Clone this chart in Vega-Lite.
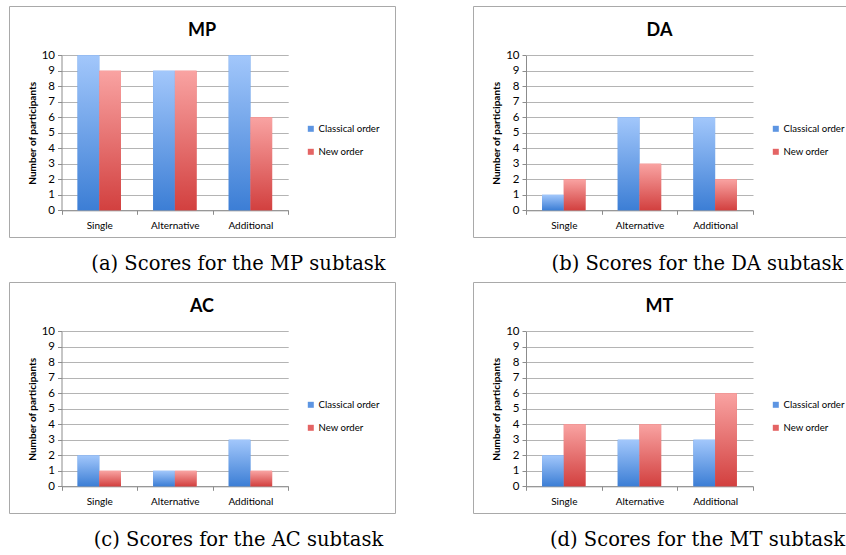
{
  "$schema": "https://vega.github.io/schema/vega-lite/v6.json",
  "padding": {"left": 8, "top": 5, "right": 0, "bottom": 0},
  "background": "white",
  "data": {"values": [
    {"panel": "MP", "task": "Single", "order": "Classical order", "count": 10},
    {"panel": "MP", "task": "Single", "order": "New order", "count": 9},
    {"panel": "MP", "task": "Alternative", "order": "Classical order", "count": 9},
    {"panel": "MP", "task": "Alternative", "order": "New order", "count": 9},
    {"panel": "MP", "task": "Additional", "order": "Classical order", "count": 10},
    {"panel": "MP", "task": "Additional", "order": "New order", "count": 6},
    {"panel": "DA", "task": "Single", "order": "Classical order", "count": 1},
    {"panel": "DA", "task": "Single", "order": "New order", "count": 2},
    {"panel": "DA", "task": "Alternative", "order": "Classical order", "count": 6},
    {"panel": "DA", "task": "Alternative", "order": "New order", "count": 3},
    {"panel": "DA", "task": "Additional", "order": "Classical order", "count": 6},
    {"panel": "DA", "task": "Additional", "order": "New order", "count": 2},
    {"panel": "AC", "task": "Single", "order": "Classical order", "count": 2},
    {"panel": "AC", "task": "Single", "order": "New order", "count": 1},
    {"panel": "AC", "task": "Alternative", "order": "Classical order", "count": 1},
    {"panel": "AC", "task": "Alternative", "order": "New order", "count": 1},
    {"panel": "AC", "task": "Additional", "order": "Classical order", "count": 3},
    {"panel": "AC", "task": "Additional", "order": "New order", "count": 1},
    {"panel": "MT", "task": "Single", "order": "Classical order", "count": 2},
    {"panel": "MT", "task": "Single", "order": "New order", "count": 4},
    {"panel": "MT", "task": "Alternative", "order": "Classical order", "count": 3},
    {"panel": "MT", "task": "Alternative", "order": "New order", "count": 4},
    {"panel": "MT", "task": "Additional", "order": "Classical order", "count": 3},
    {"panel": "MT", "task": "Additional", "order": "New order", "count": 6}
  ]},
  "columns": 2,
  "bounds": "flush",
  "spacing": {"row": 45, "column": 78},
  "concat": [
    {
      "width": 386, "height": 231,
      "title": "MP",
      "transform": [{"filter": "datum.panel === 'MP'"}],
      "encoding": {
        "x": {"field": "task", "type": "nominal", "sort": ["Single", "Alternative", "Additional"],
              "scale": {"range": [52.5, 279.2], "paddingInner": 0, "paddingOuter": 0},
              "axis": {"title": "(a) Scores for the MP subtask", "offset": -26.7, "titleX": 229}},
        "xOffset": {"field": "order", "type": "nominal", "sort": ["Classical order", "New order"], "scale": {"paddingOuter": 0.74, "paddingInner": 0}},
        "y": {"field": "count", "type": "quantitative", "scale": {"domain": [0, 10], "range": [204.3, 49.3], "nice": false},
              "axis": {"title": "Number of participants", "offset": -52.5, "values": [0, 1, 2, 3, 4, 5, 6, 7, 8, 9, 10]}}
      },
      "layer": [
        {"mark": {"type": "bar"},
         "encoding": {"color": {"field": "order", "type": "nominal", "sort": ["Classical order", "New order"], "scale": {"range": ["#5d95e2", "#e46464"]},
                      "legend": {"title": null, "orient": "none", "legendX": 297, "legendY": 118}}}},
        {"transform": [{"filter": "datum.order === 'Classical order'"}],
         "mark": {"type": "bar", "color": {"gradient": "linear", "x1": 0, "y1": 0, "x2": 0, "y2": 1, "stops": [{"offset": 0, "color": "#a2c7fb"}, {"offset": 1, "color": "#3c7ed5"}]}}},
        {"transform": [{"filter": "datum.order === 'New order'"}],
         "mark": {"type": "bar", "color": {"gradient": "linear", "x1": 0, "y1": 0, "x2": 0, "y2": 1, "stops": [{"offset": 0, "color": "#f9a3a2"}, {"offset": 1, "color": "#d2403f"}]}}}
      ]
    },
    {
      "width": 373, "height": 231,
      "title": "DA",
      "transform": [{"filter": "datum.panel === 'DA'"}],
      "encoding": {
        "x": {"field": "task", "type": "nominal", "sort": ["Single", "Alternative", "Additional"],
              "scale": {"range": [53, 280], "paddingInner": 0, "paddingOuter": 0},
              "axis": {"title": "(b) Scores for the DA subtask", "offset": -26.7, "titleX": 224}},
        "xOffset": {"field": "order", "type": "nominal", "sort": ["Classical order", "New order"], "scale": {"paddingOuter": 0.74, "paddingInner": 0}},
        "y": {"field": "count", "type": "quantitative", "scale": {"domain": [0, 10], "range": [204.3, 49.3], "nice": false},
              "axis": {"title": "Number of participants", "offset": -53, "values": [0, 1, 2, 3, 4, 5, 6, 7, 8, 9, 10]}}
      },
      "layer": [
        {"mark": {"type": "bar"},
         "encoding": {"color": {"field": "order", "type": "nominal", "sort": ["Classical order", "New order"], "scale": {"range": ["#5d95e2", "#e46464"]},
                      "legend": {"title": null, "orient": "none", "legendX": 298, "legendY": 118}}}},
        {"transform": [{"filter": "datum.order === 'Classical order'"}],
         "mark": {"type": "bar", "color": {"gradient": "linear", "x1": 0, "y1": 0, "x2": 0, "y2": 1, "stops": [{"offset": 0, "color": "#a2c7fb"}, {"offset": 1, "color": "#3c7ed5"}]}}},
        {"transform": [{"filter": "datum.order === 'New order'"}],
         "mark": {"type": "bar", "color": {"gradient": "linear", "x1": 0, "y1": 0, "x2": 0, "y2": 1, "stops": [{"offset": 0, "color": "#f9a3a2"}, {"offset": 1, "color": "#d2403f"}]}}}
      ]
    },
    {
      "width": 386, "height": 231,
      "title": "AC",
      "transform": [{"filter": "datum.panel === 'AC'"}],
      "encoding": {
        "x": {"field": "task", "type": "nominal", "sort": ["Single", "Alternative", "Additional"],
              "scale": {"range": [52.5, 279.2], "paddingInner": 0, "paddingOuter": 0},
              "axis": {"title": "(c) Scores for the AC subtask", "offset": -26.7, "titleX": 229}},
        "xOffset": {"field": "order", "type": "nominal", "sort": ["Classical order", "New order"], "scale": {"paddingOuter": 0.74, "paddingInner": 0}},
        "y": {"field": "count", "type": "quantitative", "scale": {"domain": [0, 10], "range": [204.3, 49.3], "nice": false},
              "axis": {"title": "Number of participants", "offset": -52.5, "values": [0, 1, 2, 3, 4, 5, 6, 7, 8, 9, 10]}}
      },
      "layer": [
        {"mark": {"type": "bar"},
         "encoding": {"color": {"field": "order", "type": "nominal", "sort": ["Classical order", "New order"], "scale": {"range": ["#5d95e2", "#e46464"]},
                      "legend": {"title": null, "orient": "none", "legendX": 297, "legendY": 118}}}},
        {"transform": [{"filter": "datum.order === 'Classical order'"}],
         "mark": {"type": "bar", "color": {"gradient": "linear", "x1": 0, "y1": 0, "x2": 0, "y2": 1, "stops": [{"offset": 0, "color": "#a2c7fb"}, {"offset": 1, "color": "#3c7ed5"}]}}},
        {"transform": [{"filter": "datum.order === 'New order'"}],
         "mark": {"type": "bar", "color": {"gradient": "linear", "x1": 0, "y1": 0, "x2": 0, "y2": 1, "stops": [{"offset": 0, "color": "#f9a3a2"}, {"offset": 1, "color": "#d2403f"}]}}}
      ]
    },
    {
      "width": 373, "height": 231,
      "title": "MT",
      "transform": [{"filter": "datum.panel === 'MT'"}],
      "encoding": {
        "x": {"field": "task", "type": "nominal", "sort": ["Single", "Alternative", "Additional"],
              "scale": {"range": [53, 280], "paddingInner": 0, "paddingOuter": 0},
              "axis": {"title": "(d) Scores for the MT subtask", "offset": -26.7, "titleX": 224}},
        "xOffset": {"field": "order", "type": "nominal", "sort": ["Classical order", "New order"], "scale": {"paddingOuter": 0.74, "paddingInner": 0}},
        "y": {"field": "count", "type": "quantitative", "scale": {"domain": [0, 10], "range": [204.3, 49.3], "nice": false},
              "axis": {"title": "Number of participants", "offset": -53, "values": [0, 1, 2, 3, 4, 5, 6, 7, 8, 9, 10]}}
      },
      "layer": [
        {"mark": {"type": "bar"},
         "encoding": {"color": {"field": "order", "type": "nominal", "sort": ["Classical order", "New order"], "scale": {"range": ["#5d95e2", "#e46464"]},
                      "legend": {"title": null, "orient": "none", "legendX": 298, "legendY": 118}}}},
        {"transform": [{"filter": "datum.order === 'Classical order'"}],
         "mark": {"type": "bar", "color": {"gradient": "linear", "x1": 0, "y1": 0, "x2": 0, "y2": 1, "stops": [{"offset": 0, "color": "#a2c7fb"}, {"offset": 1, "color": "#3c7ed5"}]}}},
        {"transform": [{"filter": "datum.order === 'New order'"}],
         "mark": {"type": "bar", "color": {"gradient": "linear", "x1": 0, "y1": 0, "x2": 0, "y2": 1, "stops": [{"offset": 0, "color": "#f9a3a2"}, {"offset": 1, "color": "#d2403f"}]}}}
      ]
    }
  ],
  "resolve": {"scale": {"color": "independent", "x": "independent", "y": "independent"}},
  "config": {
    "font": "Lato",
    "view": {"stroke": "#a9a9a9", "strokeWidth": 1},
    "title": {"font": "Lato", "fontSize": 18, "fontWeight": "bold", "color": "#000", "anchor": "middle", "frame": "group", "baseline": "alphabetic", "offset": -34},
    "axisX": {"domainColor": "#8c8c8c", "tickColor": "#8c8c8c", "tickSize": 4, "tickBand": "extent",
              "labelFont": "Lato", "labelFontSize": 10, "labelColor": "#000", "labelPadding": 6, "labelAngle": 0,
              "titleFont": "DejaVu Serif", "titleFontSize": 19.5, "titleFontWeight": "normal", "titleColor": "#000",
              "titleAlign": "center", "titleAnchor": null, "titlePadding": 24, "grid": false},
    "axisY": {"domainColor": "#8c8c8c", "tickColor": "#8c8c8c", "tickSize": 4,
              "grid": true, "gridColor": "#b4b4b4", "gridWidth": 1,
              "labelFont": "Lato", "labelFontSize": 11.5, "labelColor": "#000", "labelPadding": 3,
              "titleFont": "Lato", "titleFontSize": 10, "titleFontWeight": "bold", "titleColor": "#000", "titlePadding": 4},
    "legend": {"symbolType": "square", "symbolSize": 36, "symbolStrokeWidth": 0, "labelFont": "Lato", "labelFontSize": 9.6, "labelColor": "#000", "labelOffset": 3, "rowPadding": 12}
  }
}
